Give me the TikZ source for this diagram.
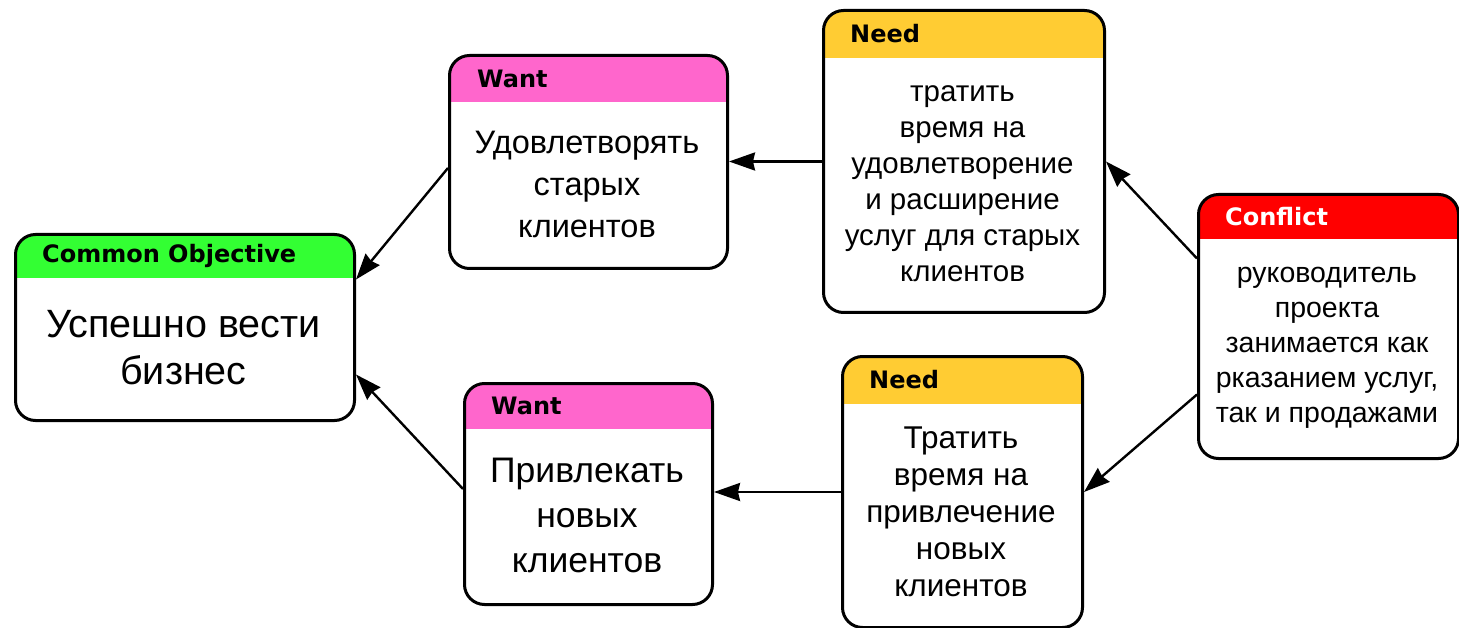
\documentclass[tikz,border=0pt]{standalone}
\usepackage{fontspec}
\setmainfont{DejaVu Sans}
\newfontfamily\cardfont{Liberation Sans}
\usetikzlibrary{arrows.meta}
\definecolor{objgreen}{HTML}{33FF33}
\definecolor{wantpink}{HTML}{FF66CC}
\definecolor{needgold}{HTML}{FFCC33}
\definecolor{conflictred}{HTML}{FF0000}

% A card: rounded box with a coloured header band across its top.
% #1 name, #2 x, #3 y (top left), #4 width, #5 height, #6 header height, #7 header colour
\newcommand\cloudcard[7]{%
  \node[card, minimum width=#4pt, minimum height=#5pt,
        path picture={\fill[#7, sharp corners]
                       ([yshift=3pt,xshift=-3pt]path picture bounding box.north west)
                       rectangle ([yshift=-#6pt,xshift=3pt]path picture bounding box.north east);}]
        (#1) at (#2,#3) {};}

\begin{document}
\begin{tikzpicture}[x=1pt,y=-1pt,
  card/.style={draw=black, line width=3pt, rounded corners=20pt, fill=white,
               inner sep=0pt, anchor=north west},
  head/.style={anchor=west, inner sep=0pt, font=\bfseries\fontsize{24}{26}\selectfont},
  body/.style={align=center, inner sep=0pt},
  link/.style={draw=black, line width=2.4pt,
               -{Stealth[length=26pt, width=18pt, inset=2pt]}}]
\useasboundingbox (0,0) rectangle (1459,628);

% cards
\cloudcard{co}{14}{233}{339}{186}{44}{objgreen}
\cloudcard{wantT}{448}{54}{278}{213}{47}{wantpink}
\cloudcard{needT}{822}{9}{281}{302}{48}{needgold}
\cloudcard{conf}{1197}{193}{260}{264}{45}{conflictred}
\cloudcard{wantB}{463}{382}{248}{221}{45}{wantpink}
\cloudcard{needB}{841}{355}{240}{271}{47}{needgold}

% header titles
\node[head] (co-h) at (42,256) {Common Objective};
\node[head] (wantT-h) at (477,78.5) {Want};
\node[head] (needT-h) at (850,34) {Need};
\node[head, text=white] (conf-h) at (1225,216.5) {Conflict};
\node[head] (wantB-h) at (491,405.5) {Want};
\node[head] (needB-h) at (869,379.5) {Need};

% card texts
\node[body, font=\cardfont\fontsize{39.5}{47}\selectfont] (co-t) at (183.5,348)
  {Успешно вести\\бизнес};
\node[body, font=\cardfont\fontsize{32.5}{42}\selectfont] (wantT-t) at (587,184)
  {Удовлетворять\\старых\\клиентов};
\node[body, font=\cardfont\fontsize{29.5}{36}\selectfont] (needT-t) at (962.5,184)
  {тратить\\время на\\удовлетворение\\и расширение\\услуг для старых\\клиентов};
\node[body, font=\cardfont\fontsize{28.5}{35}\selectfont] (conf-t) at (1327,347.5)
  {руководитель\\проекта\\занимается как\\рказанием услуг,\\так и продажами};
\node[body, font=\cardfont\fontsize{35.5}{45}\selectfont] (wantB-t) at (587,515)
  {Привлекать\\новых\\клиентов};
\node[body, font=\cardfont\fontsize{31.5}{37}\selectfont] (needB-t) at (961,512)
  {Тратить\\время на\\привлечение\\новых\\клиентов};

% connectors
\draw[link] (needT.west) -- (needT.west -| wantT.east);
\draw[link] ([yshift=68pt]conf.west) -- (needT.east);
\draw[link] ([yshift=-68pt]conf.west) -- (needB.east);
\draw[link] (needB.west) -- (needB.west -| wantB.east);
\draw[link] ([yshift=-6pt]wantT.west) -- ([yshift=48pt]co.east);
\draw[link] ([yshift=5pt]wantB.west) -- ([yshift=-47pt]co.east);
\end{tikzpicture}
\end{document}
